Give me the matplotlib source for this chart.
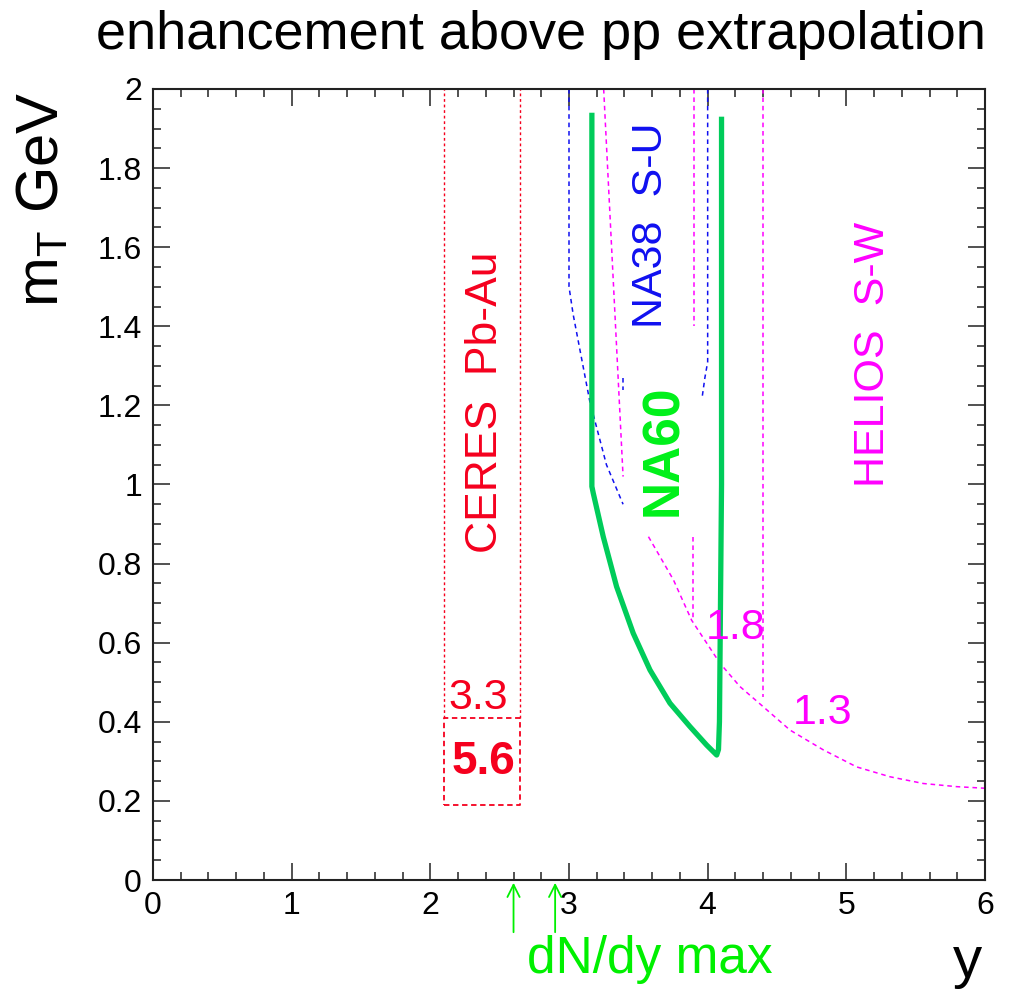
import matplotlib
matplotlib.use("Agg")
import matplotlib.pyplot as plt
from matplotlib.ticker import MultipleLocator

plt.rcParams['font.family'] = ['Liberation Sans', 'DejaVu Sans']

# CERES Pb-Au acceptance
ceres_x = [2.10, 2.65]
ceres_box_y = [0.19, 0.41]
ceres_top = 2.0

# NA38 S-U acceptance (blue)
na38_left_x = [3.0, 3.0, 3.03, 3.15, 3.27, 3.39]
na38_left_y = [2.0, 1.5, 1.43, 1.21, 1.05, 0.95]
na38_right_x = [4.0, 4.0, 3.98, 3.96]
na38_right_y = [2.0, 1.31, 1.27, 1.22]
na38_bit_x = [3.39, 3.39]
na38_bit_y = [1.27, 1.24]

# HELIOS S-W acceptance (magenta)
helios_slant_x = [3.25, 3.39]
helios_slant_y = [2.0, 1.02]
helios_v1_x = [3.90, 3.90]
helios_v1_y = [2.0, 1.40]
helios_v2_x = [3.895, 3.895]
helios_v2_y = [0.868, 0.657]
helios_v3_x = [4.40, 4.40]
helios_v3_y = [2.0, 0.463]
helios_curve_x = [3.573, 3.753, 3.884, 4.089, 4.233, 4.401, 4.594, 4.834, 5.074, 5.315, 5.555, 5.796, 6.0]
helios_curve_y = [0.868, 0.759, 0.657, 0.548, 0.489, 0.438, 0.379, 0.329, 0.286, 0.261, 0.244, 0.236, 0.232]

# NA60 acceptance (green)
na60_x = [3.165, 3.165, 3.175, 3.247, 3.343, 3.463, 3.584, 3.728, 3.872, 3.993, 4.065, 4.078, 4.085, 4.10, 4.10]
na60_y = [1.94, 0.995, 0.978, 0.868, 0.742, 0.624, 0.531, 0.447, 0.388, 0.341, 0.316, 0.33, 0.40, 1.0, 1.93]

# dN/dy maximum positions
dndy_x = [2.6, 2.9]

red = '#f5001e'
blue = '#1010f0'
mag = '#ff00ff'

fig = plt.figure(figsize=(10.09, 9.93), dpi=100)
ax = fig.add_axes([153/1009, 113/993, 832/1009, 791/993])

# CERES
for xv in ceres_x:
    ax.plot([xv, xv], [ceres_box_y[1], ceres_top], color=red, lw=1, ls=(0, (2, 2)))
ax.plot([ceres_x[0], ceres_x[1], ceres_x[1], ceres_x[0], ceres_x[0]],
        [ceres_box_y[0], ceres_box_y[0], ceres_box_y[1], ceres_box_y[1], ceres_box_y[0]],
        color=red, lw=1.3, ls=(0, (3, 2)))

# NA38
for xs, ys in [(na38_left_x, na38_left_y), (na38_right_x, na38_right_y), (na38_bit_x, na38_bit_y)]:
    ax.plot(xs, ys, color=blue, lw=1.1, ls=(0, (3, 2.5)))

# HELIOS
for xs, ys in [(helios_slant_x, helios_slant_y), (helios_v1_x, helios_v1_y),
               (helios_v2_x, helios_v2_y), (helios_v3_x, helios_v3_y),
               (helios_curve_x, helios_curve_y)]:
    ax.plot(xs, ys, color=mag, lw=1.1, ls=(0, (3, 2.5)))

# NA60
ax.plot(na60_x, na60_y, color='#00cc5a', lw=3.8, solid_joinstyle='round', solid_capstyle='butt')

# texts
ax.text(2.40, 1.208, 'CERES  Pb-Au', color=red, fontsize=32, rotation=90, ha='center', va='center')
ax.text(3.59, 1.656, 'NA38  S-U', color=blue, fontsize=31, rotation=90, ha='center', va='center')
ax.text(5.19, 1.33, 'HELIOS  S-W', color=mag, fontsize=31, rotation=90, ha='center', va='center')
ax.text(3.68, 1.087, 'NA60', color='#00f01a', fontsize=37, fontweight='bold', rotation=90,
        ha='center', va='center')
ax.text(2.345, 0.46, '3.3', color=red, fontsize=31, ha='center', va='center')
ax.text(2.38, 0.298, '5.6', color=red, fontsize=33, fontweight='bold', ha='center', va='center')
ax.text(4.20, 0.637, '1.8', color=mag, fontsize=31, ha='center', va='center')
ax.text(4.83, 0.422, '1.3', color=mag, fontsize=31, ha='center', va='center')

for xv in dndy_x:
    ax.annotate('', xy=(xv, 0.0), xytext=(xv, -0.139), annotation_clip=False,
                arrowprops=dict(arrowstyle='->', color='#00f000', lw=1.3, mutation_scale=22))

ax.set_xlim(0, 6)
ax.set_ylim(0, 2)
ax.xaxis.set_major_locator(MultipleLocator(1))
ax.xaxis.set_minor_locator(MultipleLocator(0.2))
ax.yaxis.set_major_locator(MultipleLocator(0.2))
ax.yaxis.set_minor_locator(MultipleLocator(0.05))
ax.yaxis.set_major_formatter(plt.FuncFormatter(lambda v, p: ('%g' % round(v, 2))))
ax.tick_params(which='both', direction='in', top=True, right=True, width=1.2, color='#333333')
ax.tick_params(which='major', length=12, labelsize=23, pad=8)
ax.tick_params(which='minor', length=6)
for s in ax.spines.values():
    s.set_linewidth(1.5)
    s.set_color('#222222')

fig.text(0.536, 1 - 35/993, 'enhancement above pp extrapolation', fontsize=39, ha='center', va='center')
fig.text(42/1009, 1 - 92/993, r'm$_{\mathregular{T}}$ GeV', fontsize=43, rotation=90, ha='center', va='top')
fig.text(968/1009, 1 - 962/993, 'y', fontsize=42, ha='center', va='center')
fig.text(650/1009, 1 - 960/993, 'dN/dy max', color='#00f000', fontsize=37, ha='center', va='center')

fig.savefig('out.png', dpi=100)
